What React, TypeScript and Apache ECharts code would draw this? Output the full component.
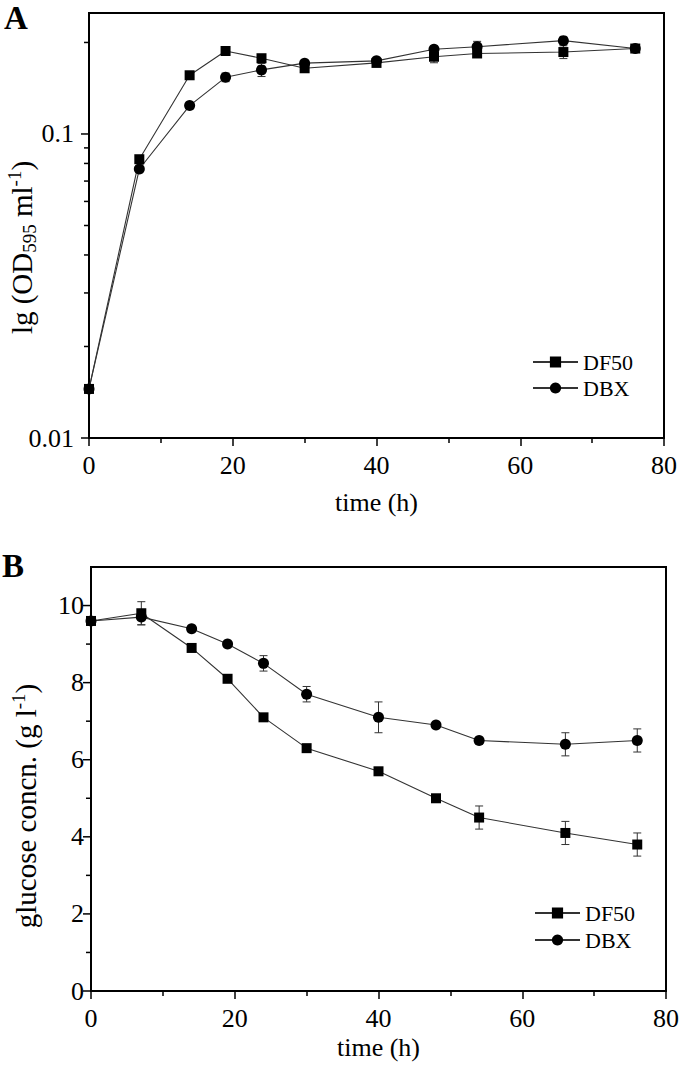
import React, { useEffect, useRef } from 'react';
import * as echarts from 'echarts';

// ---- data ----
const times = [0, 7, 14, 19, 24, 30, 40, 48, 54, 66, 76];

const odDF50 = [0.0145, 0.0826, 0.156, 0.1875, 0.1775, 0.1645, 0.1713, 0.1795, 0.184, 0.186, 0.191];
const odDF50Err = [0, 0, 0, 0, 0, 0, 0, 0.008, 0.004, 0.009, 0];
const odDBX = [0.0145, 0.0767, 0.124, 0.1536, 0.1625, 0.171, 0.174, 0.19, 0.1937, 0.2028, 0.191];
const odDBXErr = [0, 0, 0, 0.005, 0.008, 0, 0, 0.004, 0.008, 0.005, 0];

const gluDF50 = [9.6, 9.8, 8.9, 8.1, 7.1, 6.3, 5.7, 5.0, 4.5, 4.1, 3.8];
const gluDF50Err = [0, 0.3, 0, 0, 0, 0, 0, 0, 0.3, 0.3, 0.3];
const gluDBX = [9.6, 9.7, 9.4, 9.0, 8.5, 7.7, 7.1, 6.9, 6.5, 6.4, 6.5];
const gluDBXErr = [0, 0.2, 0, 0, 0.2, 0.2, 0.4, 0, 0, 0.3, 0.3];

const seriesNames = ['DF50', 'DBX'];
const logMajorTicks = [0.01, 0.1];
const logMinorTicks = [0.02, 0.03, 0.04, 0.05, 0.06, 0.07, 0.08, 0.09, 0.2];
const logLabels = ['0.01', '0.1'];
const gluMajorTicks = [0, 2, 4, 6, 8, 10];
const gluMinorTicks = [1, 3, 5, 7, 9];

const FONT = '"Liberation Serif", "Times New Roman", serif';
const LINE = '#333';

function lineSeries(name: string, values: number[], symbol: string, size: number, idx: number) {
  return {
    type: 'line',
    name,
    xAxisIndex: idx,
    yAxisIndex: idx,
    data: times.map((t, i) => [t, values[i]]),
    symbol,
    symbolSize: size,
    showSymbol: true,
    itemStyle: { color: '#000' },
    lineStyle: { color: LINE, width: 1.1 },
    z: 3,
  };
}

function errSeries(name: string, values: number[], errs: number[], idx: number) {
  const data = times
    .map((t, i) => [t, values[i] - errs[i], values[i] + errs[i], errs[i]])
    .filter((d) => d[3] > 0);
  return {
    type: 'custom',
    name,
    xAxisIndex: idx,
    yAxisIndex: idx,
    data,
    encode: { x: 0, y: [1, 2] },
    silent: true,
    z: 2,
    renderItem: (_p: any, api: any) => {
      const t = api.value(0);
      const lo = api.coord([t, api.value(1)]);
      const hi = api.coord([t, api.value(2)]);
      const w = 4;
      const style = { stroke: LINE, lineWidth: 1 };
      return {
        type: 'group',
        children: [
          { type: 'line', shape: { x1: lo[0], y1: lo[1], x2: hi[0], y2: hi[1] }, style },
          { type: 'line', shape: { x1: lo[0] - w, y1: lo[1], x2: lo[0] + w, y2: lo[1] }, style },
          { type: 'line', shape: { x1: hi[0] - w, y1: hi[1], x2: hi[0] + w, y2: hi[1] }, style },
        ],
      };
    },
  };
}

function yTickSeries(major: number[], minor: number[], idx: number) {
  const data = major.map((v) => [0, v, 8]).concat(minor.map((v) => [0, v, 5]));
  return {
    type: 'custom',
    name: 'yticks' + idx,
    xAxisIndex: idx,
    yAxisIndex: idx,
    data,
    encode: { x: 0, y: 1 },
    clip: false,
    silent: true,
    z: 5,
    renderItem: (_p: any, api: any) => {
      const p = api.coord([0, api.value(1)]);
      const len = api.value(2);
      return {
        type: 'line',
        shape: { x1: p[0] - len, y1: p[1], x2: p[0], y2: p[1] },
        style: { stroke: '#000', lineWidth: 1.5 },
      };
    },
  };
}

const richName = {
  m: { fontSize: 29, lineHeight: 34, fontFamily: FONT, color: '#000' },
  sub: { fontSize: 19, lineHeight: 19, padding: [15, 0, 0, 0], fontFamily: FONT, color: '#000' },
  sup: { fontSize: 19, lineHeight: 19, padding: [0, 0, 15, 0], fontFamily: FONT, color: '#000' },
};

function xAxis(idx: number, nameGap: number) {
  return {
    type: 'value',
    gridIndex: idx,
    min: 0,
    max: 80,
    interval: 20,
    name: 'time (h)',
    nameLocation: 'middle',
    nameGap,
    nameMoveOverlap: false,
    nameTextStyle: { fontFamily: FONT, fontSize: 26, color: '#000' },
    axisLine: { show: true, onZero: false, lineStyle: { color: '#000', width: 2 } },
    axisTick: { show: true, length: 8, inside: false, lineStyle: { color: '#000', width: 1.5 } },
    minorTick: { show: true, splitNumber: 2, length: 5, lineStyle: { color: '#000', width: 1.5 } },
    axisLabel: { fontFamily: FONT, fontSize: 26, color: '#000', margin: 14 },
    splitLine: { show: false },
    minorSplitLine: { show: false },
  };
}

export default function App() {
  const ref = useRef<HTMLDivElement>(null);
  useEffect(() => {
    if (!ref.current) return;
    const chart = echarts.init(ref.current, undefined, { renderer: 'svg' });
    const option: any = {
      animation: false,
      backgroundColor: '#fff',
      grid: [
        { left: 89, top: 13, width: 575, height: 425, show: true, borderColor: '#000', borderWidth: 2, backgroundColor: 'transparent', containLabel: false, outerBoundsMode: 'none' },
        { left: 91, top: 567, width: 575, height: 424, show: true, borderColor: '#000', borderWidth: 2, backgroundColor: 'transparent', containLabel: false, outerBoundsMode: 'none' },
      ],
      xAxis: [xAxis(0, 51), xAxis(1, 43)],
      yAxis: [
        {
          type: 'log',
          logBase: 10,
          gridIndex: 0,
          min: 0.01,
          max: 0.25,
          name: '{m|lg (OD}{sub|595}{m| ml}{sup|-1}{m|)}',
          nameLocation: 'middle',
          nameGap: 50,
          nameMoveOverlap: false,
          nameTextStyle: { rich: richName, padding: [0, 44, 0, 0] },
          axisLine: { show: true, lineStyle: { color: '#000', width: 2 } },
          axisTick: { show: false },
          axisLabel: {
            fontFamily: FONT,
            fontSize: 26,
            color: '#000',
            margin: 15,
            formatter: (v: number) => {
              for (let i = 0; i < logMajorTicks.length; i++) {
                if (Math.abs(v - logMajorTicks[i]) < 1e-9) return logLabels[i];
              }
              return '';
            },
          },
          splitLine: { show: false },
        },
        {
          type: 'value',
          gridIndex: 1,
          min: 0,
          max: 11,
          interval: 2,
          name: '{m|glucose concn. (g l}{sup|-1}{m|)}',
          nameLocation: 'middle',
          nameGap: 48,
          nameMoveOverlap: false,
          nameTextStyle: { rich: richName, padding: [0, 54, 0, 0] },
          axisLine: { show: true, lineStyle: { color: '#000', width: 2 } },
          axisTick: { show: false },
          axisLabel: {
            fontFamily: FONT,
            fontSize: 26,
            color: '#000',
            margin: 7,
            formatter: (v: number) => (gluMajorTicks.indexOf(v) >= 0 ? String(v) : ''),
          },
          splitLine: { show: false },
        },
      ],
      legend: [
        {
          data: seriesNames,
          orient: 'vertical',
          left: 532,
          top: 351,
          padding: 0,
          itemWidth: 45,
          itemHeight: 14,
          itemGap: 4,
          textStyle: { fontFamily: FONT, fontSize: 22, color: '#000' },
        },
        {
          data: seriesNames,
          orient: 'vertical',
          left: 534,
          top: 902,
          padding: 0,
          itemWidth: 45,
          itemHeight: 14,
          itemGap: 5,
          textStyle: { fontFamily: FONT, fontSize: 22, color: '#000' },
        },
      ],
      graphic: [
        { type: 'text', left: 4, top: 1, style: { text: 'A', font: `bold 33px ${FONT}`, fill: '#000' } },
        { type: 'text', left: 2, top: 549, style: { text: 'B', font: `bold 33px ${FONT}`, fill: '#000' } },
      ],
      series: [
        lineSeries('DF50', odDF50, 'rect', 10, 0),
        lineSeries('DBX', odDBX, 'circle', 11, 0),
        errSeries('DF50 error A', odDF50, odDF50Err, 0),
        errSeries('DBX error A', odDBX, odDBXErr, 0),
        yTickSeries(logMajorTicks, logMinorTicks, 0),
        lineSeries('DF50', gluDF50, 'rect', 10, 1),
        lineSeries('DBX', gluDBX, 'circle', 11, 1),
        errSeries('DF50 error B', gluDF50, gluDF50Err, 1),
        errSeries('DBX error B', gluDBX, gluDBXErr, 1),
        yTickSeries(gluMajorTicks, gluMinorTicks, 1),
      ],
    };
    chart.setOption(option);
    return () => chart.dispose();
  }, []);
  return <div ref={ref} style={{ position: 'absolute', left: 0, top: 0, width: 680, height: 1070 }} />;
}
